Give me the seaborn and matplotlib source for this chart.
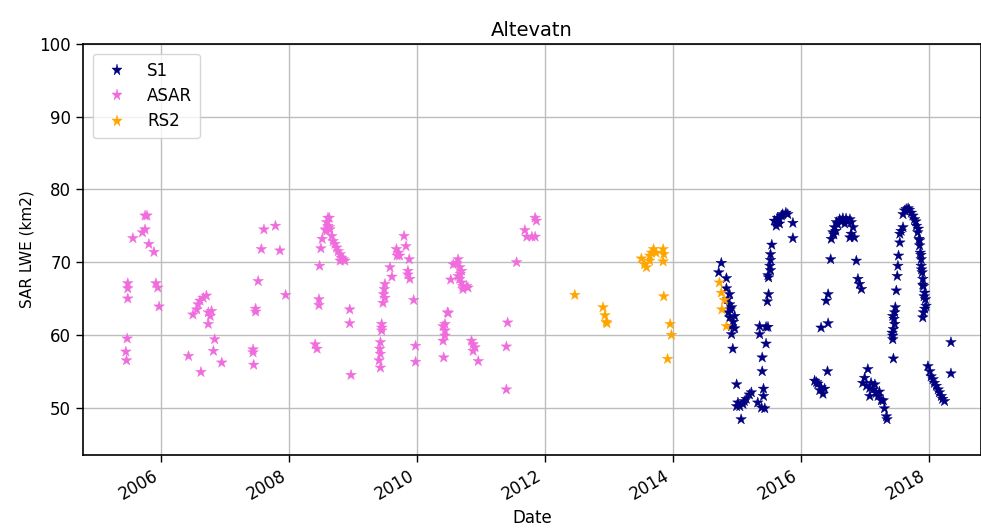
import numpy as np
import pandas as pd
import matplotlib
matplotlib.use("Agg")
import matplotlib.pyplot as plt
import matplotlib.dates as mdates
import seaborn as sns

# Acquisition times as decimal years, lake water extent in km2
s1_year = [
    2014.76, 2014.72, 2014.84, 2014.84, 2014.89, 2014.86, 2014.89, 2014.92, 2014.87,
    2014.97, 2014.89, 2014.92, 2014.97, 2014.92, 2014.94, 2014.90, 2014.95,
    2015.00, 2015.02, 2015.05, 2015.00, 2015.10, 2015.12, 2015.15, 2015.20, 2015.23, 2015.07,
    2015.33, 2015.39, 2015.42, 2015.42, 2015.44, 2015.40, 2015.40, 2015.46,
    2015.36, 2015.36, 2015.46, 2015.49, 2015.48, 2015.50,
    2015.50, 2015.49, 2015.53, 2015.52, 2015.53, 2015.53, 2015.55,
    2015.62, 2015.59, 2015.64, 2015.67, 2015.70, 2015.72, 2015.77, 2015.80, 2015.62, 2015.67,
    2015.88, 2015.88,
    2016.22, 2016.27, 2016.32, 2016.30, 2016.375, 2016.35, 2016.25, 2016.42,
    2016.32, 2016.43, 2016.40, 2016.43, 2016.47,
    2016.48, 2016.505, 2016.53, 2016.56, 2016.61, 2016.66, 2016.71, 2016.77, 2016.79, 2016.82,
    2016.84, 2016.77, 2016.79, 2016.58, 2016.63, 2016.69, 2016.74, 2016.52, 2016.55,
    2016.87, 2016.895, 2016.92, 2016.95,
    2017.05, 2017.00, 2016.97, 2017.03, 2017.08, 2017.10, 2017.13, 2017.16, 2017.18, 2017.21,
    2017.23, 2017.26, 2017.29, 2017.08, 2017.31, 2017.34, 2017.35,
    2017.45, 2017.44, 2017.44, 2017.43, 2017.45, 2017.47, 2017.46, 2017.44, 2017.47, 2017.48,
    2017.495, 2017.51, 2017.52, 2017.53, 2017.55, 2017.57, 2017.60, 2017.55,
    2017.60, 2017.625, 2017.65, 2017.68, 2017.70, 2017.73, 2017.755, 2017.78,
    2017.81, 2017.83, 2017.85, 2017.86, 2017.87, 2017.885, 2017.885, 2017.90, 2017.91, 2017.92,
    2017.94, 2017.95, 2017.96, 2017.92, 2017.91,
    2017.80, 2017.84, 2017.86, 2017.88, 2017.89, 2017.91, 2017.93, 2017.94,
    2017.99, 2018.02, 2018.04, 2018.07, 2018.09, 2018.12, 2018.15, 2018.17, 2018.20, 2018.22,
    2018.25, 2018.35, 2018.35,
]
s1_lwe = [
    69.9, 68.6, 67.8, 66.4, 65.6, 64.9, 64.2, 63.8, 63.1,
    62.6, 62.4, 61.2, 60.9, 60.1, 58.1, 63.5, 61.8,
    53.2, 50.7, 50.2, 50.2, 50.5, 50.9, 51.2, 51.8, 52.1, 48.4,
    50.7, 50.0, 52.6, 51.6, 49.9, 55.0, 56.9, 58.8,
    61.2, 60.1, 61.1, 61.1, 64.6, 65.6,
    67.9, 68.2, 68.9, 69.5, 70.3, 71.1, 72.4,
    75.0, 75.7, 76.1, 75.9, 76.4, 76.6, 76.8, 76.6, 75.5, 75.3,
    75.4, 73.3,
    53.7, 53.3, 52.8, 52.4, 52.6, 51.9, 53.5, 55.0,
    61.0, 61.6, 64.7, 65.6, 70.4,
    73.2, 74.1, 74.8, 75.5, 75.9, 76.05, 76.0, 75.9, 75.5, 74.8,
    73.4, 73.4, 73.9, 75.2, 75.6, 75.3, 75.6, 73.8, 74.3,
    70.2, 67.7, 67.0, 66.3,
    55.3, 54.1, 53.4, 53.0, 52.7, 53.4, 52.5, 53.2, 52.0, 51.6,
    52.2, 51.0, 51.0, 51.6, 49.9, 48.8, 48.4,
    56.75, 59.4, 59.9, 60.3, 60.8, 61.5, 62.2, 62.6, 63.1, 63.8,
    66.1, 68.1, 69.5, 70.9, 72.7, 74.3, 74.8, 73.9,
    76.6, 77.1, 77.3, 77.4, 77.2, 76.8, 76.4, 75.9,
    75.0, 74.1, 73.2, 72.3, 71.3, 70.4, 69.5, 68.6, 67.7, 66.7,
    65.8, 64.9, 64.0, 63.1, 62.4,
    75.6, 74.6, 73.0, 71.0, 69.0, 66.9, 65.3, 63.6,
    55.7, 55.0, 54.3, 53.9, 53.4, 53.0, 52.5, 52.1, 51.6, 51.2,
    50.9, 59.0, 54.7,
]

asar_year = [
    2005.48, 2005.48, 2005.48, 2005.47, 2005.45, 2005.46,
    2005.56, 2005.71, 2005.75, 2005.75, 2005.78, 2005.81, 2005.89, 2005.92, 2005.95, 2005.97,
    2006.61, 2006.66, 2006.71, 2006.58, 2006.56, 2006.50, 2006.74, 2006.79, 2006.77, 2006.74,
    2006.84, 2006.82, 2006.95, 2006.625, 2006.43,
    2007.61, 2007.79, 2007.57, 2007.86, 2007.52, 2007.95, 2007.48, 2007.48, 2007.44, 2007.44, 2007.45,
    2008.61, 2008.63, 2008.59, 2008.61, 2008.57, 2008.59, 2008.63, 2008.64,
    2008.67, 2008.69, 2008.72, 2008.745, 2008.77, 2008.80, 2008.82, 2008.85, 2008.80, 2008.875,
    2008.52, 2008.50, 2008.48, 2008.47, 2008.47, 2008.41, 2008.44,
    2008.95, 2008.95, 2008.97,
    2009.50, 2009.49, 2009.48, 2009.50, 2009.47, 2009.45, 2009.45, 2009.45,
    2009.43, 2009.42, 2009.43, 2009.41, 2009.43,
    2009.58, 2009.61, 2009.68, 2009.71, 2009.73, 2009.69, 2009.80, 2009.83,
    2009.88, 2009.86, 2009.86, 2009.89, 2009.95, 2009.98, 2009.98,
    2010.645, 2010.57, 2010.67, 2010.70, 2010.645, 2010.67, 2010.70, 2010.72, 2010.78, 2010.80,
    2010.72, 2010.53, 2010.62, 2010.68,
    2010.48, 2010.49, 2010.44, 2010.41, 2010.44, 2010.44, 2010.41, 2010.42,
    2010.855, 2010.88, 2010.91, 2010.88, 2010.96,
    2011.42, 2011.40, 2011.40, 2011.56, 2011.69, 2011.72, 2011.80, 2011.85, 2011.85, 2011.87,
]
asar_lwe = [
    67.1, 66.4, 65.0, 59.5, 57.7, 56.5,
    73.3, 74.1, 74.5, 76.4, 76.4, 72.5, 71.4, 67.1, 66.5, 63.9,
    64.7, 65.1, 65.4, 64.2, 63.5, 62.8, 63.1, 63.3, 62.6, 61.5,
    59.4, 57.8, 56.2, 54.9, 57.1,
    74.5, 75.0, 71.8, 71.6, 67.4, 65.5, 63.6, 63.2, 58.0, 57.6, 55.9,
    76.1, 76.1, 75.5, 75.0, 74.5, 74.3, 74.8, 74.5,
    73.6, 72.9, 72.5, 72.0, 71.5, 71.1, 70.6, 70.4, 70.2, 70.2,
    73.2, 71.9, 69.5, 64.9, 64.1, 58.7, 58.1,
    63.5, 61.6, 54.5,
    67.0, 66.3, 65.6, 65.1, 64.4, 61.5, 61.0, 60.6,
    59.0, 58.1, 57.4, 56.5, 55.5,
    69.3, 68.0, 71.8, 71.3, 70.9, 70.9, 73.6, 72.2,
    70.4, 68.8, 68.3, 67.7, 64.8, 58.5, 56.3,
    70.4, 69.7, 69.3, 68.8, 68.1, 67.7, 67.2, 66.7, 66.7, 66.5,
    66.3, 67.6, 69.9, 68.4,
    63.1, 63.0, 61.5, 61.2, 60.6, 59.9, 59.2, 56.9,
    59.2, 58.7, 58.3, 57.8, 56.4,
    61.7, 58.4, 52.5, 70.0, 74.4, 73.5, 73.5, 73.5, 76.1, 75.7,
]

rs2_year = [
    2012.47, 2012.91, 2012.94, 2012.96, 2012.97,
    2013.51, 2013.56, 2013.59, 2013.64, 2013.67, 2013.70, 2013.74, 2013.64,
    2013.85, 2013.86, 2013.85, 2013.86, 2013.96, 2013.98, 2013.92,
    2014.73, 2014.76, 2014.81, 2014.77, 2014.84,
]
rs2_lwe = [
    65.5, 63.8, 62.7, 61.8, 61.6,
    70.5, 69.7, 69.3, 70.9, 71.3, 71.8, 71.3, 70.2,
    71.8, 71.1, 70.1, 65.3, 61.5, 60.0, 56.7,
    67.2, 65.8, 64.8, 63.5, 61.2,
]

sensors = ["S1", "ASAR", "RS2"]
sensor_colors = {"S1": "#000080", "ASAR": "#F06BDC", "RS2": "#FFA500"}


def to_dates(years):
    """Turn decimal years into timestamps."""
    years = np.asarray(years, dtype=float)
    whole = np.floor(years).astype(int)
    start = pd.to_datetime([f"{y}-01-01" for y in whole])
    end = pd.to_datetime([f"{y + 1}-01-01" for y in whole])
    return start + (end - start) * (years - whole)


frames = []
for name, yrs, vals in [("S1", s1_year, s1_lwe),
                        ("ASAR", asar_year, asar_lwe),
                        ("RS2", rs2_year, rs2_lwe)]:
    frames.append(pd.DataFrame({"Date": to_dates(yrs), "LWE": vals, "Sensor": name}))
df = pd.concat(frames, ignore_index=True)

sns.set_style("ticks")
plt.rcParams["font.family"] = ["DejaVu Sans"]
plt.rcParams["text.color"] = "black"
plt.rcParams["axes.labelcolor"] = "black"
plt.rcParams["xtick.color"] = "black"
plt.rcParams["ytick.color"] = "black"

fig = plt.figure(figsize=(9.81, 5.29), dpi=100)
ax = fig.add_axes([83 / 981, 1 - 455 / 529, 1 - 83 / 981, (455 - 44) / 529])

ax.grid(True, color="#bdbdbd", linewidth=1.0, zorder=0)
ax.set_axisbelow(True)

sns.scatterplot(data=df, x="Date", y="LWE", hue="Sensor", hue_order=sensors,
                palette=sensor_colors, marker="*", s=65, linewidth=0.3,
                edgecolor="face", ax=ax, zorder=3)

ax.set_ylim(43.5, 100)
ax.set_yticks([50, 60, 70, 80, 90, 100])
ax.set_xlim(to_dates([2004.78])[0], to_dates([2018.82])[0])
ax.xaxis.set_major_locator(mdates.YearLocator(2))
ax.xaxis.set_major_formatter(mdates.DateFormatter("%Y"))

for spine in ax.spines.values():
    spine.set_visible(True)
    spine.set_color("black")
    spine.set_linewidth(1.2)

ax.tick_params(axis="both", labelsize=12, length=5, width=1, color="black",
               labelcolor="black")
plt.setp(ax.get_xticklabels(), rotation=30, ha="right")

ax.set_title("Altevatn", fontsize=14, color="black")
ax.set_xlabel("Date", fontsize=12)
ax.set_ylabel("SAR LWE (km2)", fontsize=11)

leg = ax.legend(loc="upper left", fontsize=12, frameon=True, borderpad=0.45,
                handletextpad=0.8, borderaxespad=0.6, labelspacing=0.45)
leg.get_frame().set_edgecolor("#cccccc")

fig.savefig("out.png", dpi=100)
